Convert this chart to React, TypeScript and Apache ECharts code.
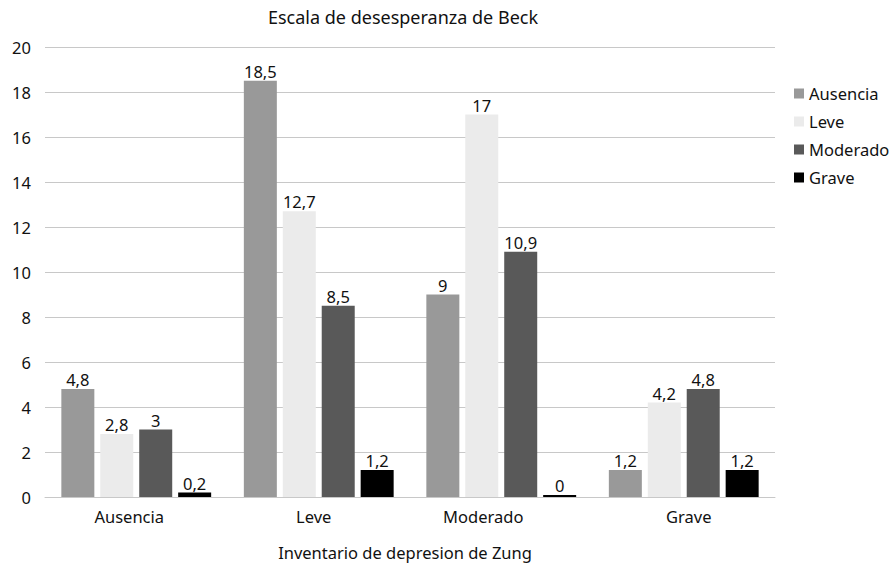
import React, { useEffect, useRef } from "react";
import * as echarts from "echarts";

const categories = ["Ausencia", "Leve", "Moderado", "Grave"];
const seriesNames = ["Ausencia", "Leve", "Moderado", "Grave"];
const ausencia = [4.8, 18.5, 9, 1.2];
const leve = [2.8, 12.7, 17, 4.2];
const moderado = [3, 8.5, 10.9, 4.8];
const grave = [0.2, 1.2, 0, 1.2];
const colors = ["#999999", "#ebebeb", "#595959", "#000000"];
const yTicks = [0, 2, 4, 6, 8, 10, 12, 14, 16, 18, 20];
const labelShift = [-7, -5, -18, 5];

const FONT = "'Noto Sans', sans-serif";
const FS = 16.5;

export default function App() {
  const ref = useRef<HTMLDivElement>(null);
  useEffect(() => {
    if (!ref.current) return;
    const chart = echarts.init(ref.current, null, { renderer: "svg" });
    const values = [ausencia, leve, moderado, grave];
    chart.setOption({
      animation: false,
      backgroundColor: "#ffffff",
      textStyle: { fontFamily: FONT },
      title: {
        text: "Escala de desesperanza de Beck",
        left: 398,
        textAlign: "center",
        top: 3,
        textStyle: { fontFamily: FONT, fontSize: 18, fontWeight: "normal", color: "#111" },
      },
      legend: {
        orient: "vertical",
        left: 789,
        top: 80,
        itemWidth: 10,
        itemHeight: 10,
        itemGap: 11,
        icon: "rect",
        textStyle: { fontFamily: FONT, fontSize: FS, color: "#111", padding: [0, 0, 0, 0] },
        data: seriesNames,
      },
      grid: { left: 45, right: 116, top: 47, bottom: 72 },
      xAxis: {
        type: "category",
        data: categories.map((c, i) => ({
          value: c,
          textStyle: {
            padding: labelShift[i] < 0 ? [0, -2 * labelShift[i], 0, 0] : [0, 0, 0, 2 * labelShift[i]],
          },
        })),
        axisLine: { show: true, lineStyle: { color: "#c8c8c8", width: 1 } },
        axisTick: { show: false },
        axisLabel: { fontFamily: FONT, fontSize: FS, color: "#111", margin: 11 },
        name: "Inventario de depresion de Zung",
        nameLocation: "middle",
        nameGap: 47,
        nameTextStyle: { fontFamily: FONT, fontSize: FS, color: "#111", padding: [0, 10, 0, 0] },
      },
      yAxis: {
        type: "value",
        min: yTicks[0],
        max: yTicks[yTicks.length - 1],
        interval: 2,
        axisLine: { show: false },
        axisTick: { show: false },
        splitLine: { lineStyle: { color: "#c8c8c8", width: 1 } },
        axisLabel: { fontFamily: FONT, fontSize: FS, color: "#111", margin: 14 },
      },
      series: seriesNames.map((name, i) => ({
        name,
        type: "bar",
        data: values[i],
        barWidth: 33,
        barGap: "18%",
        barMinHeight: i === 3 ? 2 : 0,
        itemStyle: { color: colors[i] },
        label: {
          show: true,
          position: "top",
          distance: 1,
          fontFamily: FONT,
          fontSize: FS,
          color: "#111",
          formatter: (p: any) => String(p.value).replace(".", ","),
        },
      })),
    });
    return () => chart.dispose();
  }, []);
  return <div ref={ref} style={{ width: 891, height: 569, position: "absolute", left: 0, top: 0 }} />;
}
